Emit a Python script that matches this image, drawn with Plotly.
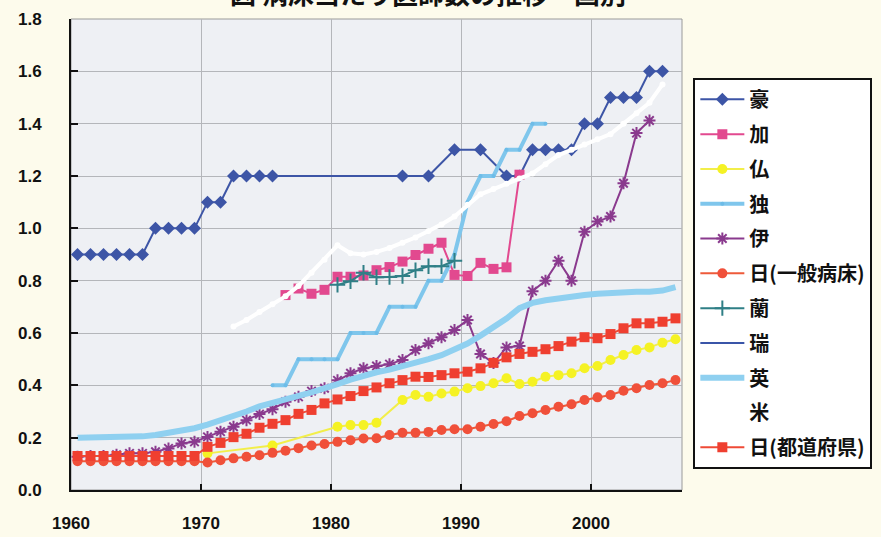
import plotly.graph_objects as go

# Years on the category axis
years = list(range(1960, 2007))

# Series values, one entry per year (None = no data for that year)
australia = ([0.9] * 6 + [1.0] * 4 + [1.1] * 2 + [1.2] * 4 + [None] * 9 +
             [1.2, None, 1.2, None, 1.3, None, 1.3, None, 1.2, 1.2] +
             [1.3] * 4 + [1.4] * 2 + [1.5] * 3 + [1.6] * 2 + [None])

canada = ([None] * 16 +
          [0.745, 0.77, 0.75, 0.765, 0.815, 0.815, 0.82, 0.84, 0.852, 0.873,
           0.898, 0.922, 0.945, 0.822, 0.818, 0.868, 0.845, 0.851, 1.205] +
          [None] * 12)

france = ([None] * 10 + [0.14] + [None] * 4 + [0.17] + [None] * 4 +
          [0.242, 0.248, 0.248, 0.257, None,
           0.344, 0.363, 0.356, 0.369, 0.376, 0.389, 0.397, 0.408, 0.427, 0.405,
           0.414, 0.433, 0.439, 0.446, 0.465, 0.474, 0.497, 0.516, 0.535, 0.545,
           0.563, 0.576])

germany = ([None] * 15 + [0.4, 0.4] + [0.5] * 4 + [0.6] * 3 + [0.7] * 3 +
           [0.8] * 2 + [0.9, 1.1, 1.2, 1.2, 1.3, 1.3, 1.4, 1.4] + [None] * 10)

italy = [0.127, 0.13, 0.13, 0.135, 0.14, 0.14, 0.146, 0.159, 0.178, 0.184,
         0.203, 0.223, 0.242, 0.267, 0.29, 0.309, 0.337, 0.356, 0.378, 0.389,
         0.419, 0.446, 0.465, 0.474, 0.481, 0.497, 0.535, 0.561, 0.584, 0.611,
         0.65, 0.52, 0.485, 0.545, 0.55, 0.76, 0.80, 0.876, 0.80, 0.987,
         1.026, 1.045, 1.172, 1.364, 1.412, None, None]

japan_general = ([0.11] * 10 +
                 [0.105, 0.114, 0.121, 0.127, 0.133, 0.142, 0.15, 0.16, 0.17, 0.176,
                  0.184, 0.19, 0.197, 0.198, 0.21, 0.219, 0.219, 0.222, 0.229, 0.232,
                  0.232, 0.242, 0.252, 0.263, 0.283, 0.293, 0.306, 0.318, 0.328, 0.344,
                  0.354, 0.363, 0.379, 0.389, 0.401, 0.408, 0.42])

netherlands = ([None] * 20 +
               [0.784, 0.798, 0.83, 0.813, 0.814, 0.818, 0.84, 0.855, 0.855, 0.876] +
               [None] * 17)

sweden = [None] * 47

uk = [0.20, 0.20, 0.20, 0.20, 0.20, 0.205, 0.21, 0.218, 0.227, 0.236,
      0.25, 0.265, 0.28, 0.30, 0.32, 0.335, 0.35, 0.36, 0.373, 0.387,
      0.405, 0.422, 0.438, 0.45, 0.46, 0.472, 0.485, 0.50, 0.515, 0.535,
      0.56, 0.59, 0.62, 0.655, 0.695, 0.715, 0.725, 0.733, 0.74, 0.745,
      0.75, 0.754, 0.757, 0.758, 0.758, 0.762, 0.775]

usa = ([None] * 12 +
       [0.625, 0.65, 0.68, 0.71, 0.74, 0.78, 0.83, 0.88, 0.935, 0.905,
        0.9, 0.91, 0.925, 0.945, 0.965, 0.99, 1.015, 1.045, 1.09, 1.13,
        1.15, 1.17, 1.19, 1.21, 1.245, 1.28, 1.30, 1.32, 1.34, 1.36,
        1.40, 1.44, 1.48, 1.55] + [None])

japan_pref = ([0.13] * 10 +
              [0.165, 0.18, 0.202, 0.215, 0.238, 0.253, 0.267, 0.291, 0.306, 0.331,
               0.346, 0.359, 0.378, 0.392, 0.408, 0.42, 0.433, 0.432, 0.439, 0.446,
               0.452, 0.465, 0.486, 0.507, 0.52, 0.528, 0.538, 0.55, 0.567, 0.584,
               0.58, 0.596, 0.618, 0.637, 0.637, 0.643, 0.656])

y_ticks = [0.0, 0.2, 0.4, 0.6, 0.8, 1.0, 1.2, 1.4, 1.6, 1.8]
x_tick_labels = ["1960", "1970", "1980", "1990", "2000"]

JP = "Noto Sans CJK JP"

series = [
    ("豪", australia, dict(color="#3d55a6", width=2),
     dict(symbol="diamond", size=10, color="#3d55a6")),
    ("加", canada, dict(color="#e2498f", width=2),
     dict(symbol="square", size=10, color="#e2498f")),
    ("仏", france, dict(color="#f2ee4a", width=2),
     dict(symbol="circle", size=10, color="#f5f224")),
    ("独", germany, dict(color="#7fc6ec", width=4),
     dict(symbol="circle", size=4, color="#6dbce8")),
    ("伊", italy, dict(color="#8a3a8e", width=2),
     dict(symbol="asterisk-open", size=10, line=dict(color="#8a3a8e", width=2))),
    ("日(一般病床)", japan_general, dict(color="#ee5a3a", width=2),
     dict(symbol="circle", size=10, color="#f0503a")),
    ("蘭", netherlands, dict(color="#2f7f86", width=2),
     dict(symbol="cross-thin-open", size=11, line=dict(color="#2f7f86", width=2))),
    ("瑞", sweden, dict(color="#3a55a8", width=2),
     dict(symbol="line-ew-open", size=8, line=dict(color="#3a55a8", width=2))),
    ("英", uk, dict(color="#8fd0f0", width=6), None),
    ("米", usa, dict(color="#ffffff", width=4),
     dict(symbol="circle", size=6, color="#ffffff")),
    ("日(都道府県)", japan_pref, dict(color="#ef4a36", width=2),
     dict(symbol="square", size=10, color="#ef3f30")),
]

fig = go.Figure()
for i, (name, vals, line, marker) in enumerate(series):
    fig.add_trace(go.Scatter(
        x=years, y=vals, name=name,
        mode="lines+markers" if marker else "lines",
        line=line, marker=marker or {},
        connectgaps=True, legendgroup=f"g{i}",
    ))

tick_font = dict(family="Liberation Sans", size=17, color="#111111", weight="bold")

fig.update_layout(
    width=881, height=537,
    margin=dict(l=71, r=199, t=19, b=47, autoexpand=False),
    paper_bgcolor="#fdfbec",
    plot_bgcolor="#eef0f4",
    showlegend=True,
    legend=dict(
        xref="container", yref="container",
        x=0.787, y=0.855, xanchor="left", yanchor="top",
        bgcolor="#ffffff", bordercolor="#111111", borderwidth=2,
        font=dict(family=JP, size=20, color="#111111", weight="bold"),
        tracegroupgap=5.8, itemwidth=44, maxheight=440,
    ),
    xaxis=dict(
        range=[1959.5, 2006.5],
        tickvals=[1959.5, 1969.5, 1979.5, 1989.5, 1999.5],
        ticktext=x_tick_labels,
        ticks="inside", ticklen=6, tickwidth=2, tickcolor="#111111",
        showline=True, linecolor="#111111", linewidth=2,
        showgrid=True, gridcolor="#b4b6ba", gridwidth=1,
        zeroline=False, tickfont=tick_font, ticklabelstandoff=17,
    ),
    yaxis=dict(
        range=[0, 1.8],
        tickvals=y_ticks, tickformat=".1f",
        ticks="inside", ticklen=7, tickwidth=2, tickcolor="#111111",
        showline=True, linecolor="#111111", linewidth=2,
        showgrid=True, gridcolor="#b4b6ba", gridwidth=1,
        zeroline=False, tickfont=tick_font, ticklabelstandoff=24,
    ),
    shapes=[dict(type="rect", xref="paper", yref="paper", x0=0, y0=0, x1=1, y1=1,
                 line=dict(color="#9a9a9a", width=1), layer="below")],
    annotations=[dict(
        text="図 病床当たり医師数の推移・国別", xref="paper", yref="paper",
        x=0.584, y=1.056, xanchor="center", yanchor="middle", showarrow=False,
        font=dict(family=JP, size=26, color="#111111", weight="bold"),
    )],
)

fig.write_html("out.html")
